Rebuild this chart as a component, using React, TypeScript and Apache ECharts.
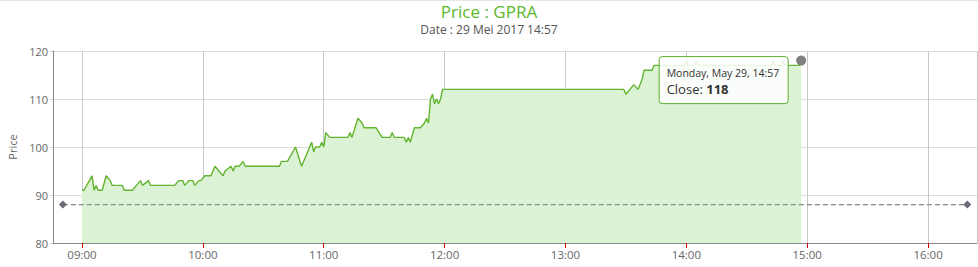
import React, { useEffect, useRef } from "react";
import * as echarts from "echarts";

const tradeTimes = [
  "09:00", "09:01", "09:05", "09:06", "09:07", "09:08", "09:10", "09:12", "09:14", "09:15",
  "09:20", "09:21", "09:25", "09:27", "09:29", "09:30", "09:33", "09:34", "09:46", "09:48",
  "09:50", "09:51", "09:53", "09:55", "09:56", "09:58", "09:59", "10:01", "10:04", "10:06",
  "10:08", "10:10", "10:11", "10:14", "10:15", "10:16", "10:18", "10:20", "10:21", "10:38",
  "10:39", "10:42", "10:46", "10:49", "10:54", "10:55", "10:56", "10:58", "10:59", "11:00",
  "11:01", "11:03", "11:12", "11:13", "11:14", "11:17", "11:19", "11:20", "11:26", "11:29",
  "11:33", "11:34", "11:35", "11:40", "11:41", "11:42", "11:43", "11:45", "11:48", "11:50",
  "11:51", "11:52", "11:53", "11:54", "11:55", "11:56", "11:57", "11:58", "11:59", "13:29",
  "13:30", "13:32", "13:34", "13:36", "13:38", "13:39", "13:43", "13:44", "13:59", "14:00",
  "14:01", "14:04", "14:05", "14:06", "14:42", "14:43", "14:44", "14:47", "14:48", "14:49",
  "14:56", "14:57",
];
const closePrices = [
  91, 91, 94, 91, 92, 91, 91, 94, 93, 92,
  92, 91, 91, 92, 93, 92, 93, 92, 92, 93,
  93, 92, 93, 93, 92, 93, 93, 94, 94, 96,
  95, 94, 95, 96, 95, 96, 96, 97, 96, 96,
  97, 97, 100, 96, 101, 99, 100, 100, 101, 100,
  103, 102, 102, 103, 102, 106, 105, 104, 104, 102,
  102, 103, 102, 102, 101, 102, 101, 104, 104, 105,
  106, 105, 110, 111, 109, 110, 109, 110, 112, 112,
  111, 112, 113, 112, 114, 116, 116, 117, 117, 118,
  117, 117, 118, 117, 117, 118, 117, 117, 118, 117,
  117, 118,
];
const prevCloseTimes = ["08:50:30", "16:19:30"];
const prevClosePrices = [88, 88];
const axisBounds = ["08:45:36", "16:24:18"];
const priceTicks = [80, 90, 100, 110, 120];
const chartTitle = "Price : GPRA";
const chartSubtitle = "Date : 29 Mei 2017 14:57";
const tooltipDate = "Monday, May 29, 14:57";
const tooltipLabel = "Close";

const HOUR = 3600 * 1000;
const toTs = (t: string) => {
  const p = t.split(":").map(Number);
  return Date.UTC(2017, 4, 29, p[0], p[1], p[2] || 0);
};
const pad = (n: number) => String(n).padStart(2, "0");
const FONT = "'Open Sans', sans-serif";
const GREEN = "#62b52f";

export default function App() {
  const ref = useRef<HTMLDivElement>(null);
  useEffect(() => {
    if (!ref.current) return;
    const chart = echarts.init(ref.current, undefined, { renderer: "svg" });
    const priceData = tradeTimes.map((t, i) => [toTs(t), closePrices[i]]);
    const prevData = prevCloseTimes.map((t, i) => [toTs(t), prevClosePrices[i]]);
    const lastPoint = priceData[priceData.length - 1];

    chart.setOption({
      animation: false,
      useUTC: true,
      textStyle: { fontFamily: FONT },
      title: [
        {
          text: chartTitle,
          left: "center",
          top: 3,
          padding: 0,
          textStyle: { fontSize: 17, lineHeight: 17, fontWeight: "normal", color: "#5cb82c", fontFamily: FONT },
        },
        {
          text: chartSubtitle,
          left: "center",
          top: 23,
          padding: 0,
          textStyle: { fontSize: 12, lineHeight: 12, fontWeight: "normal", color: "#555", fontFamily: FONT },
        },
      ],
      grid: { left: 53, right: 1, top: 51, bottom: 24, containLabel: false, outerBoundsMode: "none" },
      xAxis: {
        type: "time",
        min: toTs(axisBounds[0]),
        max: toTs(axisBounds[1]),
        minInterval: HOUR,
        maxInterval: HOUR,
        axisLine: { show: true, lineStyle: { color: "#888", width: 1 } },
        axisTick: { show: true, length: 5, lineStyle: { color: "#cc0000" } },
        axisLabel: {
          color: "#666",
          fontSize: 11.5,
          fontFamily: FONT,
          margin: 5,
          showMinLabel: false,
          showMaxLabel: false,
          formatter: (v: number) => {
            const d = new Date(v);
            return pad(d.getUTCHours()) + ":" + pad(d.getUTCMinutes());
          },
        },
        splitLine: { show: true, lineStyle: { color: "#c8c8c8", width: 1 } },
      },
      yAxis: {
        type: "value",
        min: priceTicks[0],
        max: priceTicks[priceTicks.length - 1],
        interval: priceTicks[1] - priceTicks[0],
        name: "Price",
        nameLocation: "middle",
        nameGap: 34,
        nameRotate: 90,
        nameTextStyle: { color: "#666", fontSize: 11, fontFamily: FONT },
        axisLine: { show: true, lineStyle: { color: "#888", width: 1 } },
        axisTick: { show: true, length: 3, lineStyle: { color: "#ccc" } },
        axisLabel: { color: "#666", fontSize: 11, fontFamily: FONT, margin: 5, padding: [0, 0, 6, 0] },
        splitLine: { show: true, lineStyle: { color: "#dcdcdc", width: 1 } },
      },
      series: [
        {
          type: "line",
          data: priceData,
          showSymbol: false,
          symbol: "none",
          lineStyle: { color: GREEN, width: 1.4 },
          itemStyle: { color: GREEN },
          areaStyle: { color: "#dcf2d4", opacity: 1 },
          markPoint: {
            symbol: "circle",
            symbolSize: 10,
            itemStyle: { color: "#808080" },
            label: { show: false },
            data: [{ coord: lastPoint }],
          },
          z: 2,
        },
        {
          type: "line",
          data: prevData,
          symbol: "diamond",
          symbolSize: 8,
          showSymbol: true,
          lineStyle: { color: "#8a8a8a", width: 1.2, type: [5, 3] },
          itemStyle: { color: "#6a6a78" },
          z: 3,
        },
      ],
    });

    const [px, py] = chart.convertToPixel({ gridIndex: 0 }, lastPoint) as number[];
    chart.setOption({
      graphic: [
        {
          type: "rect",
          left: 0,
          top: 0,
          z: 100,
          shape: { width: 978, height: 1 },
          style: { fill: "#e6e6e6" },
          silent: true,
        },
        {
          type: "group",
          x: px - 142,
          y: py - 4,
          z: 100,
          children: [
            {
              type: "rect",
              z: 100,
              shape: { x: 0, y: 0, width: 129, height: 47, r: 3 },
              style: { fill: "rgba(255,255,255,0.86)", stroke: "#5fae2d", lineWidth: 1 },
            },
            {
              type: "text",
              z: 101,
              x: 7.5,
              y: 16.5,
              style: {
                text: tooltipDate,
                fontSize: 10.5,
                fontFamily: FONT,
                fill: "#333",
                verticalAlign: "middle",
              },
            },
            {
              type: "text",
              z: 101,
              x: 7.5,
              y: 32.5,
              style: {
                text: tooltipLabel + ": {b|" + lastPoint[1] + "}",
                fontSize: 13,
                fontFamily: FONT,
                fill: "#333",
                verticalAlign: "middle",
                rich: { b: { fontSize: 13, fontWeight: "bold", fontFamily: FONT, fill: "#333" } },
              },
            },
          ],
        },
      ],
    });

    return () => chart.dispose();
  }, []);

  return (
    <div
      ref={ref}
      style={{ position: "absolute", left: 0, top: 0, width: 978, height: 267, background: "#fff" }}
    />
  );
}
